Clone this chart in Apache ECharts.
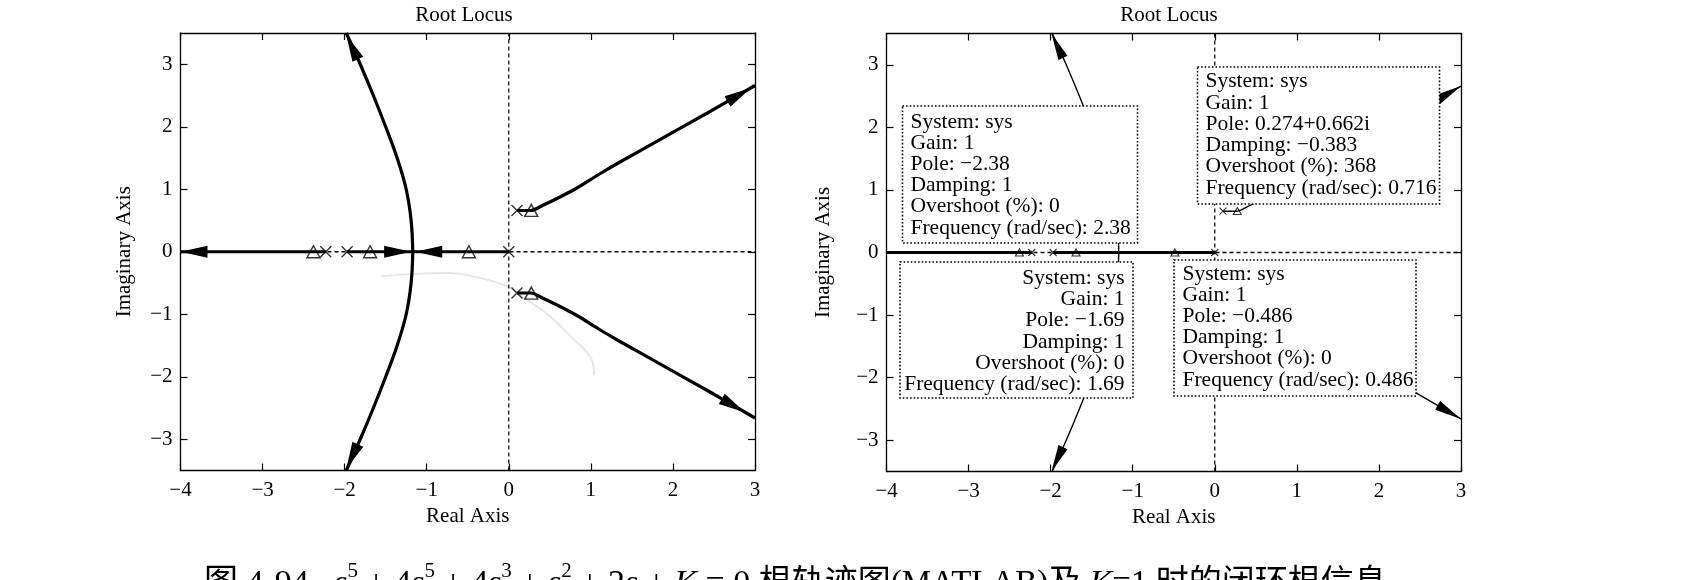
<!DOCTYPE html>
<html>
<head>
<meta charset="utf-8">
<script src="https://cdn.jsdelivr.net/npm/echarts@6.0.0/dist/echarts.min.js"></script>
<style>
  html, body { margin: 0; padding: 0; background: #fff; }
  #chart { width: 1700px; height: 580px; }
</style>
</head>
<body>
<div id="chart"></div>
<script>
// open-loop poles (K = 0), marked with x
var poleRe = [0, -1.97, -2.23, 0.1, 0.1];
var poleIm = [0, 0, 0, 0.66, -0.66];
// closed-loop roots at K = 1, marked with triangles
var rootRe = [-2.38, -1.69, -0.486, 0.274, 0.274];
var rootIm = [0, 0, 0, 0.662, -0.662];

// locus branches
var realAX = [-4, -2.23];
var realBX = [-1.97, 0];
var leftBranchX = [-1.17, -1.19, -1.25, -1.36, -1.50, -1.65, -1.81, -1.98];
var leftBranchUpY = [0, 0.5, 1.0, 1.5, 2.0, 2.5, 3.0, 3.5];
var leftBranchDnY = [0, -0.5, -1.0, -1.5, -2.0, -2.5, -3.0, -3.5];
var rightBranchX = [0.1, 0.27, 0.41, 0.6, 0.83, 1.1, 1.36, 1.89, 2.42, 3.0];
var rightBranchUpY = [0.66, 0.66, 0.74, 0.86, 1.02, 1.24, 1.44, 1.83, 2.22, 2.66];
var rightBranchDnY = [-0.66, -0.66, -0.74, -0.86, -1.02, -1.24, -1.44, -1.83, -2.22, -2.66];
// faint show-through from the back of the page (left plot only)
var ghostX = [-1.55, -1.1, -0.74, -0.35, -0.01, 0.2, 0.48, 0.75, 1.0, 1.04];
var ghostY = [-0.39, -0.35, -0.34, -0.42, -0.56, -0.75, -1.01, -1.35, -1.7, -1.97];

// arrowheads: tipX, tipY, backX, backY
var arrowsLeft = [
  [-4, 0, -3.5, 0],
  [-1.19, 0, -1.6, 0],
  [-1.14, 0, -0.7, 0],
  [-1.98, 3.47, -1.81, 3.0],
  [-1.98, -3.47, -1.81, -3.0],
  [2.95, 2.62, 2.42, 2.22],
  [2.88, -2.57, 2.42, -2.22]
];
var arrowsRight = [
  [-1.99, 3.5, -1.81, 3.0],
  [-1.99, -3.5, -1.81, -3.0],
  [3.0, 2.66, 2.42, 2.22],
  [3.0, -2.66, 2.42, -2.22]
];

var yTicks = [-3, -2, -1, 0, 1, 2, 3];

// data tips (K = 1)
var tipGain = ['1', '1', '1', '1'];
var tipPole = ['\u22122.38', '0.274+0.662i', '\u22121.69', '\u22120.486'];
var tipDamping = ['1', '\u22120.383', '1', '1'];
var tipOvershoot = ['0', '368', '0', '0'];
var tipFreq = ['2.38', '0.716', '1.69', '0.486'];

var serif = '"Liberation Serif", "Times New Roman", serif';
var cjk = '"Liberation Serif", "Noto Sans CJK SC", serif';

function zip(xs, ys) {
  return xs.map(function (x, i) { return [x, ys[i]]; });
}
function fmt(v) {
  return v < 0 ? '\u2212' + (-v) : String(v);
}

var grids = [
  { left: 180.5, top: 33, width: 574.5, height: 437.5 },
  { left: 886.5, top: 33.5, width: 574.5, height: 438 }
];

var xAxes = [], yAxes = [];
var yNameGap = [46, 53];
grids.forEach(function (g, i) {
  var line = { onZero: false, lineStyle: { color: '#000', width: 1.3 } };
  var tick = { inside: true, length: 7, lineStyle: { color: '#000', width: 1.2 } };
  xAxes.push({
    gridIndex: i, type: 'value', position: 'bottom', min: -4, max: 3, interval: 1,
    axisLine: line, axisTick: tick, splitLine: { show: false },
    axisLabel: { margin: 9, color: '#000', fontSize: 21, fontFamily: serif, formatter: fmt },
    name: 'Real Axis', nameLocation: 'middle', nameGap: 35,
    nameTextStyle: { color: '#000', fontSize: 21, fontFamily: serif }
  });
  xAxes.push({
    gridIndex: i, type: 'value', position: 'top', min: -4, max: 3, interval: 1,
    axisLine: line, axisTick: tick, splitLine: { show: false }, axisLabel: { show: false }
  });
  yAxes.push({
    gridIndex: i, type: 'value', position: 'left', min: -3.5, max: 3.5,
    axisLine: line, splitLine: { show: false },
    axisTick: { inside: true, length: 7, lineStyle: { color: '#000', width: 1.2 }, customValues: yTicks },
    axisLabel: { margin: 8, color: '#000', fontSize: 21, fontFamily: serif, formatter: fmt, customValues: yTicks },
    name: 'Imaginary Axis', nameLocation: 'middle', nameGap: yNameGap[i], nameRotate: 90,
    nameTextStyle: { color: '#000', fontSize: 21, fontFamily: serif }
  });
  yAxes.push({
    gridIndex: i, type: 'value', position: 'right', min: -3.5, max: 3.5,
    axisLine: line, splitLine: { show: false }, axisLabel: { show: false },
    axisTick: { inside: true, length: 7, lineStyle: { color: '#000', width: 1.2 }, customValues: yTicks }
  });
});

function lineSeries(ax, data, width, extra) {
  var s = {
    type: 'line', xAxisIndex: ax, yAxisIndex: ax, data: data,
    symbol: 'none', silent: true, z: 3,
    lineStyle: { color: '#000', width: width, cap: 'butt' }
  };
  for (var k in extra) s[k] = extra[k];
  return s;
}

function arrowSeries(ax, data, len, half) {
  return {
    type: 'custom', xAxisIndex: ax, yAxisIndex: ax, data: data, silent: true, z: 5,
    renderItem: function (params, api) {
      var tip = api.coord([api.value(0), api.value(1)]);
      var back = api.coord([api.value(2), api.value(3)]);
      var dx = tip[0] - back[0], dy = tip[1] - back[1];
      var d = Math.sqrt(dx * dx + dy * dy);
      dx /= d; dy /= d;
      var bx = tip[0] - dx * len, by = tip[1] - dy * len;
      return {
        type: 'polygon',
        shape: { points: [tip, [bx - dy * half, by + dx * half], [bx + dy * half, by - dx * half]] },
        style: { fill: '#000' }
      };
    }
  };
}

var crossPath = 'path://M0,0L10,10M10,0L0,10';

function markerSeries(ax, xSize, tSize, bw) {
  return [
    {
      type: 'scatter', xAxisIndex: ax, yAxisIndex: ax, data: zip(poleRe, poleIm),
      symbol: crossPath, symbolSize: xSize, silent: true, z: 6,
      itemStyle: { color: 'rgba(0,0,0,0)', borderColor: '#000', borderWidth: bw }
    },
    {
      type: 'scatter', xAxisIndex: ax, yAxisIndex: ax, data: zip(rootRe, rootIm),
      symbol: 'triangle', symbolSize: tSize, silent: true, z: 6,
      itemStyle: { color: 'rgba(0,0,0,0)', borderColor: '#000', borderWidth: bw }
    }
  ];
}

var series = [];
[0, 2].forEach(function (ax) {
  var thin = ax === 0 ? 3.2 : 1.4;
  series.push(lineSeries(ax, [[0, -3.5], [0, 3.5]], 1.2, { lineStyle: { color: '#000', width: 1.2, type: [4, 3] }, z: 2 }));
  series.push(lineSeries(ax, [[-4, 0], [3, 0]], 1.5, { lineStyle: { color: '#000', width: 1.5, type: [4, 3] }, z: 2 }));
  if (ax === 0) {
    series.push(lineSeries(ax, zip(ghostX, ghostY), 2, { smooth: 0.4, lineStyle: { color: '#e6e6e6', width: 2 }, z: 1 }));
  }
  series.push(lineSeries(ax, zip(realAX, [0, 0]), 3.2));
  series.push(lineSeries(ax, zip(realBX, [0, 0]), 3.2));
  series.push(lineSeries(ax, zip(leftBranchX, leftBranchUpY), thin, { smooth: 0.4 }));
  series.push(lineSeries(ax, zip(leftBranchX, leftBranchDnY), thin, { smooth: 0.4 }));
  series.push(lineSeries(ax, zip(rightBranchX, rightBranchUpY), thin, { smooth: 0.3 }));
  series.push(lineSeries(ax, zip(rightBranchX, rightBranchDnY), thin, { smooth: 0.3 }));
});
series.push(arrowSeries(0, arrowsLeft, 27, 6));
series.push(arrowSeries(2, arrowsRight, 27, 5));
series = series.concat(markerSeries(0, 11, [13, 12], 1.4));
series = series.concat(markerSeries(2, 7, [8, 7], 1.1));

// data tip boxes in the right plot
var boxes = [
  { x: 902.5, y: 106, w: 235, h: 137, tx: 910.5, ty: 111.4, lh: 21.2, align: 'left' },
  { x: 1197.5, y: 67, w: 242, h: 137, tx: 1205.5, ty: 71, lh: 21.3, align: 'left' },
  { x: 900, y: 262, w: 233, h: 136, tx: 1124.5, ty: 267.7, lh: 21.2, align: 'right' },
  { x: 1174, y: 260, w: 242, h: 136, tx: 1182.5, ty: 263.4, lh: 21.2, align: 'left' }
];

var graphics = [];
boxes.forEach(function (b, i) {
  var txt = [
    'System: sys',
    'Gain: ' + tipGain[i],
    'Pole: ' + tipPole[i],
    'Damping: ' + tipDamping[i],
    'Overshoot (%): ' + tipOvershoot[i],
    'Frequency (rad/sec): ' + tipFreq[i]
  ].join('\n');
  graphics.push({
    type: 'rect', z: 100,
    shape: { x: b.x, y: b.y, width: b.w, height: b.h },
    style: { fill: '#fff', stroke: '#000', lineWidth: 1.6, lineDash: [1.6, 2] }
  });
  graphics.push({
    type: 'text', z: 101, x: b.tx, y: b.ty,
    style: {
      text: txt, fill: '#000', fontSize: 21.5, fontFamily: serif, lineHeight: b.lh,
      align: b.align, textAlign: b.align, verticalAlign: 'top', textVerticalAlign: 'top'
    }
  });
});

[464, 1169].forEach(function (cx) {
  graphics.push({
    type: 'text', z: 101, x: cx, y: 15,
    style: {
      text: 'Root Locus', fill: '#000', fontSize: 21, fontFamily: serif,
      align: 'center', textAlign: 'center', verticalAlign: 'middle', textVerticalAlign: 'middle'
    }
  });
});

// figure caption (cut off by the bottom edge)
graphics.push({
  type: 'text', z: 101, x: 204, y: 561,
  style: {
    text: '{n|图 4-94   }{i|s}{p|5}{n| + 4}{i|s}{p|5}{n| + 4}{i|s}{p|3}{n| + }{i|s}{p|2}{n| + 2}{i|s}{n| + }{i|K}{n| = 0 }{c|根轨迹图(MATLAB)及 }{i|K}{c|=1 时的闭环根信息}',
    fill: '#000', align: 'left', textAlign: 'left', verticalAlign: 'top', textVerticalAlign: 'top',
    rich: {
      n: { fontSize: 34, fontFamily: cjk, fill: '#000', verticalAlign: 'bottom', lineHeight: 40 },
      c: { fontSize: 33, fontFamily: cjk, fill: '#000', verticalAlign: 'bottom', lineHeight: 40 },
      i: { fontSize: 34, fontFamily: serif, fontStyle: 'italic', fill: '#000', verticalAlign: 'bottom', lineHeight: 40 },
      p: { fontSize: 21, fontFamily: serif, fill: '#000', verticalAlign: 'top', lineHeight: 40 }
    }
  }
});

var chart = echarts.init(document.getElementById('chart'), null, { renderer: 'canvas' });
chart.setOption({
  animation: false,
  backgroundColor: '#fff',
  grid: grids,
  xAxis: xAxes,
  yAxis: yAxes,
  series: series,
  graphic: { elements: graphics }
});
</script>
</body>
</html>
